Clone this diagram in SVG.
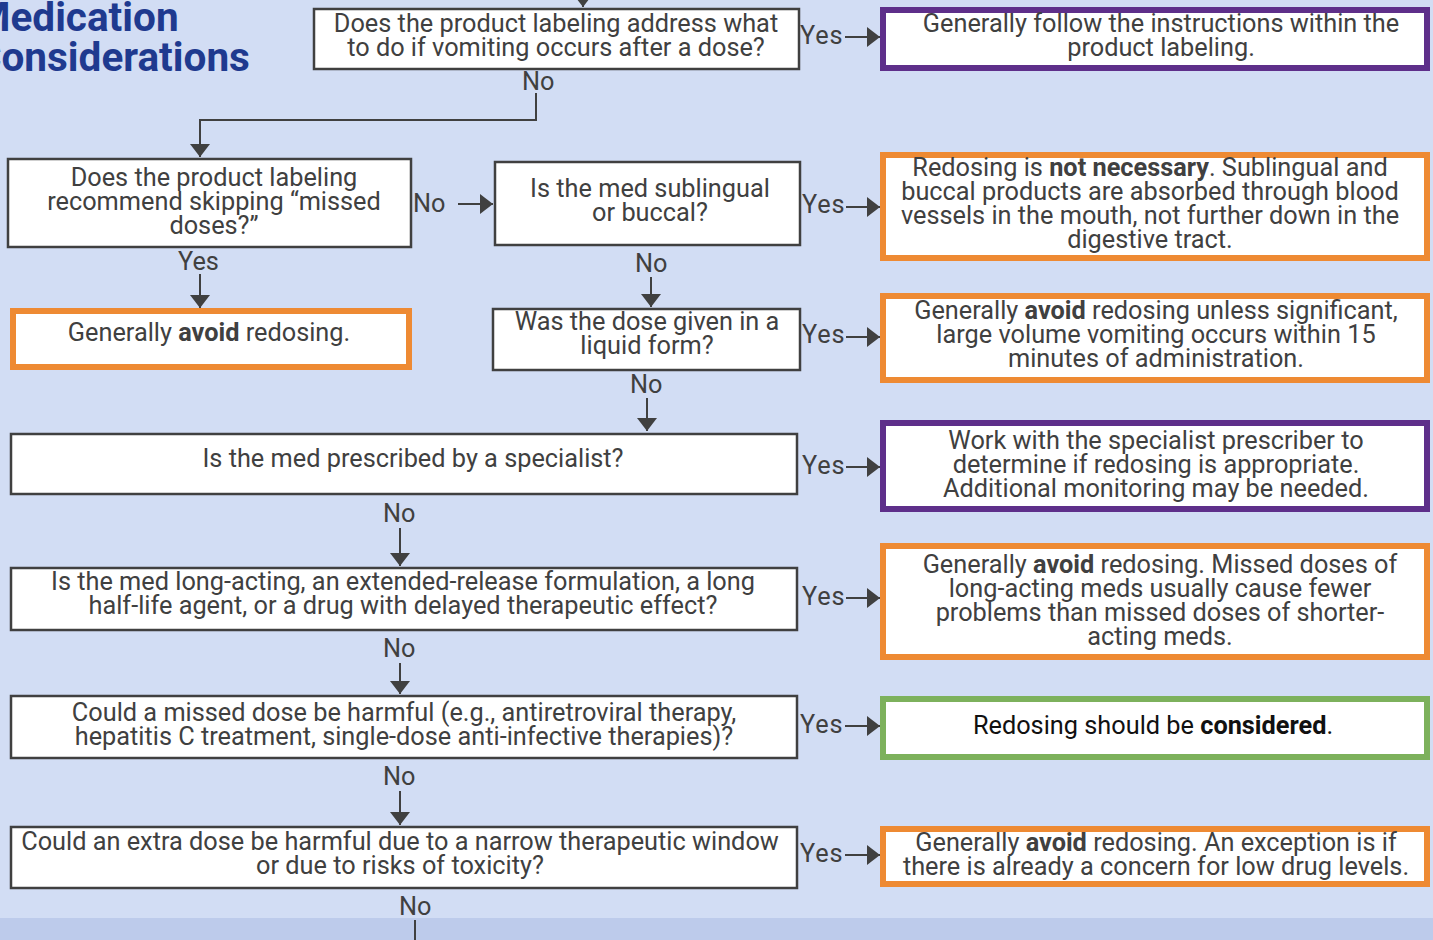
<svg xmlns="http://www.w3.org/2000/svg" width="1433" height="940" viewBox="0 0 1433 940">
<style>
.bg{fill:#d2ddf4}
.q{fill:#ffffff;stroke:#404040;stroke-width:2.5}
.ro{fill:#ffffff;stroke:#ee8a33;stroke-width:6}
.rp{fill:#ffffff;stroke:#5e2f8a;stroke-width:6}
.rg{fill:#ffffff;stroke:#7db15c;stroke-width:6}
text{font-family:Roboto,"Liberation Sans",sans-serif;font-size:25.3px;fill:#404040}
.c{text-anchor:middle}
.y{letter-spacing:0.8px}
.t{font-size:40.5px;font-weight:bold;fill:#1f3a8f}
.b{font-weight:bold}
.k{fill:#111111}
.con{fill:none;stroke:#404040;stroke-width:2}
</style>
<defs>
<marker id="ah" markerUnits="userSpaceOnUse" markerWidth="14" markerHeight="20" refX="13" refY="10" orient="auto">
<path d="M0,0 L13,10 L0,20 z" fill="#404040"/>
</marker>
</defs>
<rect class="bg" x="0" y="0" width="1433" height="940"/>
<rect x="0" y="918" width="1433" height="22" fill="#bdcbeb"/>
<g id="title">
<text class="t" x="-25" y="31">Medication</text>
<text class="t" x="-25" y="71">Considerations</text>
</g>
<g id="connectors">
<path class="con" d="M583,-20 V7" marker-end="url(#ah)"/>
<path class="con" d="M536,93 V120 H200 V157" marker-end="url(#ah)"/>
<path class="con" d="M845,37 H880" marker-end="url(#ah)"/>
<path class="con" d="M458,204 H493" marker-end="url(#ah)"/>
<path class="con" d="M846,207 H880" marker-end="url(#ah)"/>
<path class="con" d="M200,274 V308" marker-end="url(#ah)"/>
<path class="con" d="M651,277 V307" marker-end="url(#ah)"/>
<path class="con" d="M846,337 H880" marker-end="url(#ah)"/>
<path class="con" d="M647,398 V431" marker-end="url(#ah)"/>
<path class="con" d="M846,467 H880" marker-end="url(#ah)"/>
<path class="con" d="M400,528 V566" marker-end="url(#ah)"/>
<path class="con" d="M846,598 H880" marker-end="url(#ah)"/>
<path class="con" d="M400,663 V694" marker-end="url(#ah)"/>
<path class="con" d="M845,726 H880" marker-end="url(#ah)"/>
<path class="con" d="M400,791 V825" marker-end="url(#ah)"/>
<path class="con" d="M845,855 H880" marker-end="url(#ah)"/>
<path class="con" d="M415,920 V945"/>
<text class="y" x="800" y="44">Yes</text>
<text x="522" y="90">No</text>
<text x="413" y="212">No</text>
<text class="y" x="802" y="213">Yes</text>
<text x="178" y="270">Yes</text>
<text x="635" y="272">No</text>
<text class="y" x="802" y="343">Yes</text>
<text x="630" y="393">No</text>
<text class="y" x="802" y="474">Yes</text>
<text x="383" y="522">No</text>
<text class="y" x="802" y="605">Yes</text>
<text x="383" y="657">No</text>
<text class="y" x="800" y="733">Yes</text>
<text x="383" y="785">No</text>
<text class="y" x="800" y="862">Yes</text>
<text x="399" y="915">No</text>
</g>
<g id="q1">
<rect class="q" x="314" y="9" width="485" height="60"/>
<text class="c" x="556" y="32">Does the product labeling address what</text>
<text class="c" x="556" y="56">to do if vomiting occurs after a dose?</text>
</g>
<g id="r1">
<rect class="rp" x="883" y="10" width="544" height="58"/>
<text class="c" x="1161" y="32">Generally follow the instructions within the</text>
<text class="c" x="1161" y="56">product labeling.</text>
</g>
<g id="q2">
<rect class="q" x="8" y="159" width="403" height="88"/>
<text class="c" x="214" y="186">Does the product labeling</text>
<text class="c" x="214" y="210">recommend skipping “missed</text>
<text class="c" x="214" y="234">doses?”</text>
</g>
<g id="q3">
<rect class="q" x="495" y="162" width="305" height="83"/>
<text class="c" x="650" y="197">Is the med sublingual</text>
<text class="c" x="650" y="221">or buccal?</text>
</g>
<g id="r2">
<rect class="ro" x="883" y="155" width="544" height="103"/>
<text class="c" x="1150" y="176">Redosing is <tspan class="b">not necessary</tspan>. Sublingual and</text>
<text class="c" x="1150" y="200">buccal products are absorbed through blood</text>
<text class="c" x="1150" y="224">vessels in the mouth, not further down in the</text>
<text class="c" x="1150" y="248">digestive tract.</text>
</g>
<g id="r3">
<rect class="ro" x="13" y="311" width="396" height="56"/>
<text class="c" x="209" y="341">Generally <tspan class="b">avoid</tspan> redosing.</text>
</g>
<g id="q4">
<rect class="q" x="493" y="309" width="307" height="61"/>
<text class="c" x="647" y="330">Was the dose given in a</text>
<text class="c" x="647" y="354">liquid form?</text>
</g>
<g id="r4">
<rect class="ro" x="883" y="296" width="544" height="84"/>
<text class="c" x="1156" y="319">Generally <tspan class="b">avoid</tspan> redosing unless significant,</text>
<text class="c" x="1156" y="343">large volume vomiting occurs within 15</text>
<text class="c" x="1156" y="367">minutes of administration.</text>
</g>
<g id="q5">
<rect class="q" x="11" y="434" width="786" height="60"/>
<text class="c" x="413" y="467">Is the med prescribed by a specialist?</text>
</g>
<g id="r5">
<rect class="rp" x="883" y="423" width="544" height="86"/>
<text class="c" x="1156" y="449">Work with the specialist prescriber to</text>
<text class="c" x="1156" y="473">determine if redosing is appropriate.</text>
<text class="c" x="1156" y="497">Additional monitoring may be needed.</text>
</g>
<g id="q6">
<rect class="q" x="11" y="568" width="786" height="62"/>
<text class="c" x="403" y="590">Is the med long-acting, an extended-release formulation, a long</text>
<text class="c" x="403" y="614">half-life agent, or a drug with delayed therapeutic effect?</text>
</g>
<g id="r6">
<rect class="ro" x="883" y="546" width="544" height="111"/>
<text class="c" x="1160" y="573">Generally <tspan class="b">avoid</tspan> redosing. Missed doses of</text>
<text class="c" x="1160" y="597">long-acting meds usually cause fewer</text>
<text class="c" x="1160" y="621">problems than missed doses of shorter-</text>
<text class="c" x="1160" y="645">acting meds.</text>
</g>
<g id="q7">
<rect class="q" x="11" y="696" width="786" height="62"/>
<text class="c" x="404" y="721">Could a missed dose be harmful (e.g., antiretroviral therapy,</text>
<text class="c" x="404" y="745">hepatitis C treatment, single-dose anti-infective therapies)?</text>
</g>
<g id="r7">
<rect class="rg" x="883" y="699" width="544" height="58"/>
<text class="c k" x="1153" y="734">Redosing should be <tspan class="b k">considered</tspan>.</text>
</g>
<g id="q8">
<rect class="q" x="11" y="827" width="786" height="61"/>
<text class="c" x="400" y="850">Could an extra dose be harmful due to a narrow therapeutic window</text>
<text class="c" x="400" y="874">or due to risks of toxicity?</text>
</g>
<g id="r8">
<rect class="ro" x="883" y="829" width="544" height="55"/>
<text class="c" x="1156" y="851">Generally <tspan class="b">avoid</tspan> redosing. An exception is if</text>
<text class="c" x="1156" y="875">there is already a concern for low drug levels.</text>
</g>
</svg>
